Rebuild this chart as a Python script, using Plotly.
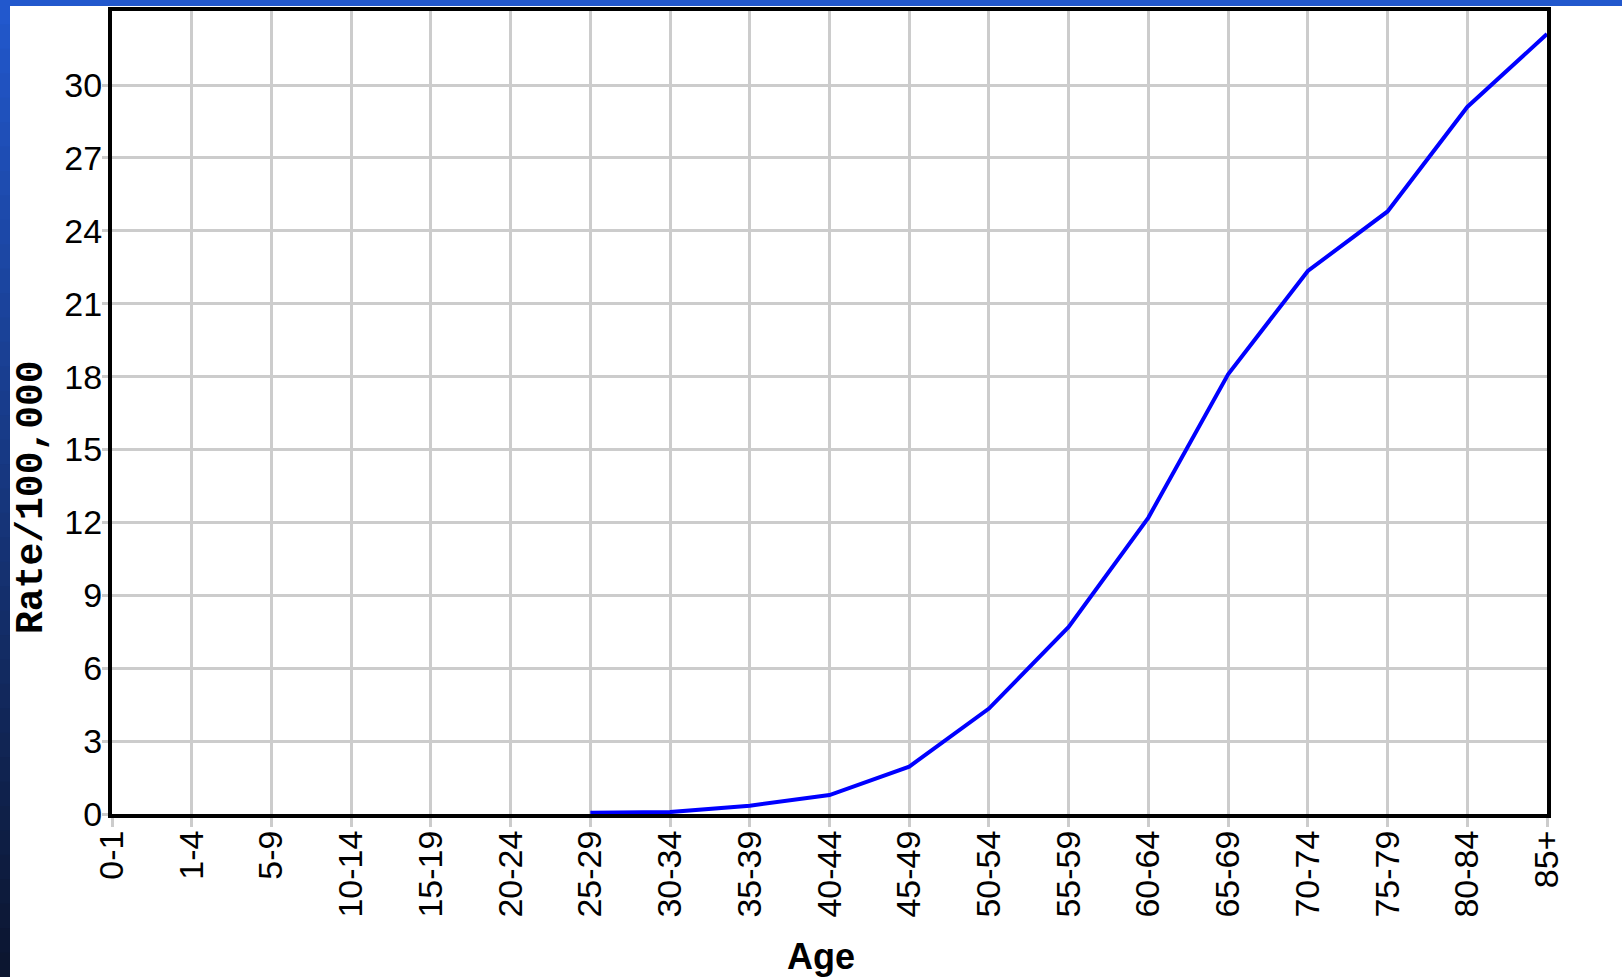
import plotly.graph_objects as go

age_groups = ["0-1", "1-4", "5-9", "10-14", "15-19", "20-24", "25-29", "30-34",
              "35-39", "40-44", "45-49", "50-54", "55-59", "60-64", "65-69",
              "70-74", "75-79", "80-84", "85+"]
rates = [None, None, None, None, None, None, 0.05, 0.08, 0.34, 0.78, 1.95,
         4.34, 7.7, 12.2, 18.1, 22.35, 24.8, 29.1, 32.1]
y_ticks = [0, 3, 6, 9, 12, 15, 18, 21, 24, 27, 30]

W, H = 1622, 977
L, R, T, B = 112, 1547, 11, 814

fig = go.Figure()
fig.add_trace(go.Scatter(
    x=list(range(len(age_groups))), y=rates, mode="lines",
    line=dict(color="#0000ff", width=4), connectgaps=False,
    hoverinfo="skip", showlegend=False))

def px_x(p):
    return (p - L) / (R - L)

def px_y(p):
    return (B - p) / (B - T)

shapes = []
# left gradient strip
n = 40
top_c = (34, 88, 205)
bot_c = (12, 22, 48)
for i in range(n):
    f = i / (n - 1)
    c = tuple(int(top_c[k] + (bot_c[k] - top_c[k]) * f) for k in range(3))
    y0 = i * H / n
    y1 = (i + 1) * H / n + 1
    shapes.append(dict(type="rect", xref="paper", yref="paper",
                       x0=px_x(0), x1=px_x(10), y0=px_y(y1), y1=px_y(y0),
                       fillcolor="rgb(%d,%d,%d)" % c, line=dict(width=0), layer="below"))
# top bar
shapes.append(dict(type="rect", xref="paper", yref="paper",
                   x0=px_x(0), x1=px_x(W), y0=px_y(6), y1=px_y(0),
                   fillcolor="rgb(34,88,205)", line=dict(width=0), layer="below"))

fig.update_layout(
    width=W, height=H,
    margin=dict(l=L, r=W - R, t=T, b=H - B, autoexpand=False),
    paper_bgcolor="white", plot_bgcolor="white",
    shapes=shapes,
    font=dict(family="Liberation Sans", color="black"),
    xaxis=dict(
        range=[0, len(age_groups) - 1],
        tickmode="array", tickvals=list(range(len(age_groups))), ticktext=age_groups,
        tickangle=-90, tickfont=dict(size=34, family="Liberation Sans"),
        showgrid=True, gridcolor="#cccccc", gridwidth=3,
        ticks="outside", ticklen=9, tickwidth=3, tickcolor="#cccccc",
        ticklabelstandoff=-10,
        showline=True, linecolor="black", linewidth=4, mirror=True,
        zeroline=False, fixedrange=True,
    ),
    yaxis=dict(
        range=[0, 33.05],
        tickmode="array", tickvals=y_ticks, ticktext=[str(v) for v in y_ticks],
        tickfont=dict(size=34, family="Liberation Sans"),
        showgrid=True, gridcolor="#cccccc", gridwidth=3,
        ticks="outside", ticklen=6, tickwidth=3, tickcolor="#cccccc",
        ticklabelstandoff=-7,
        showline=True, linecolor="black", linewidth=4, mirror=True,
        zeroline=False, fixedrange=True,
    ),
    annotations=[
        dict(text="<b>Rate/100,000</b>", xref="paper", yref="paper",
             x=px_x(31), y=px_y(497), textangle=-90, showarrow=False,
             xanchor="center", yanchor="middle",
             font=dict(size=38, family="Liberation Mono", color="black")),
        dict(text="<b>Age</b>", xref="paper", yref="paper",
             x=px_x(821), y=px_y(956), showarrow=False,
             xanchor="center", yanchor="middle",
             font=dict(size=36, family="Liberation Sans", color="black")),
    ],
)

fig.write_html("out.html", config={"displayModeBar": False},
               post_script="document.body.style.margin='0';")
